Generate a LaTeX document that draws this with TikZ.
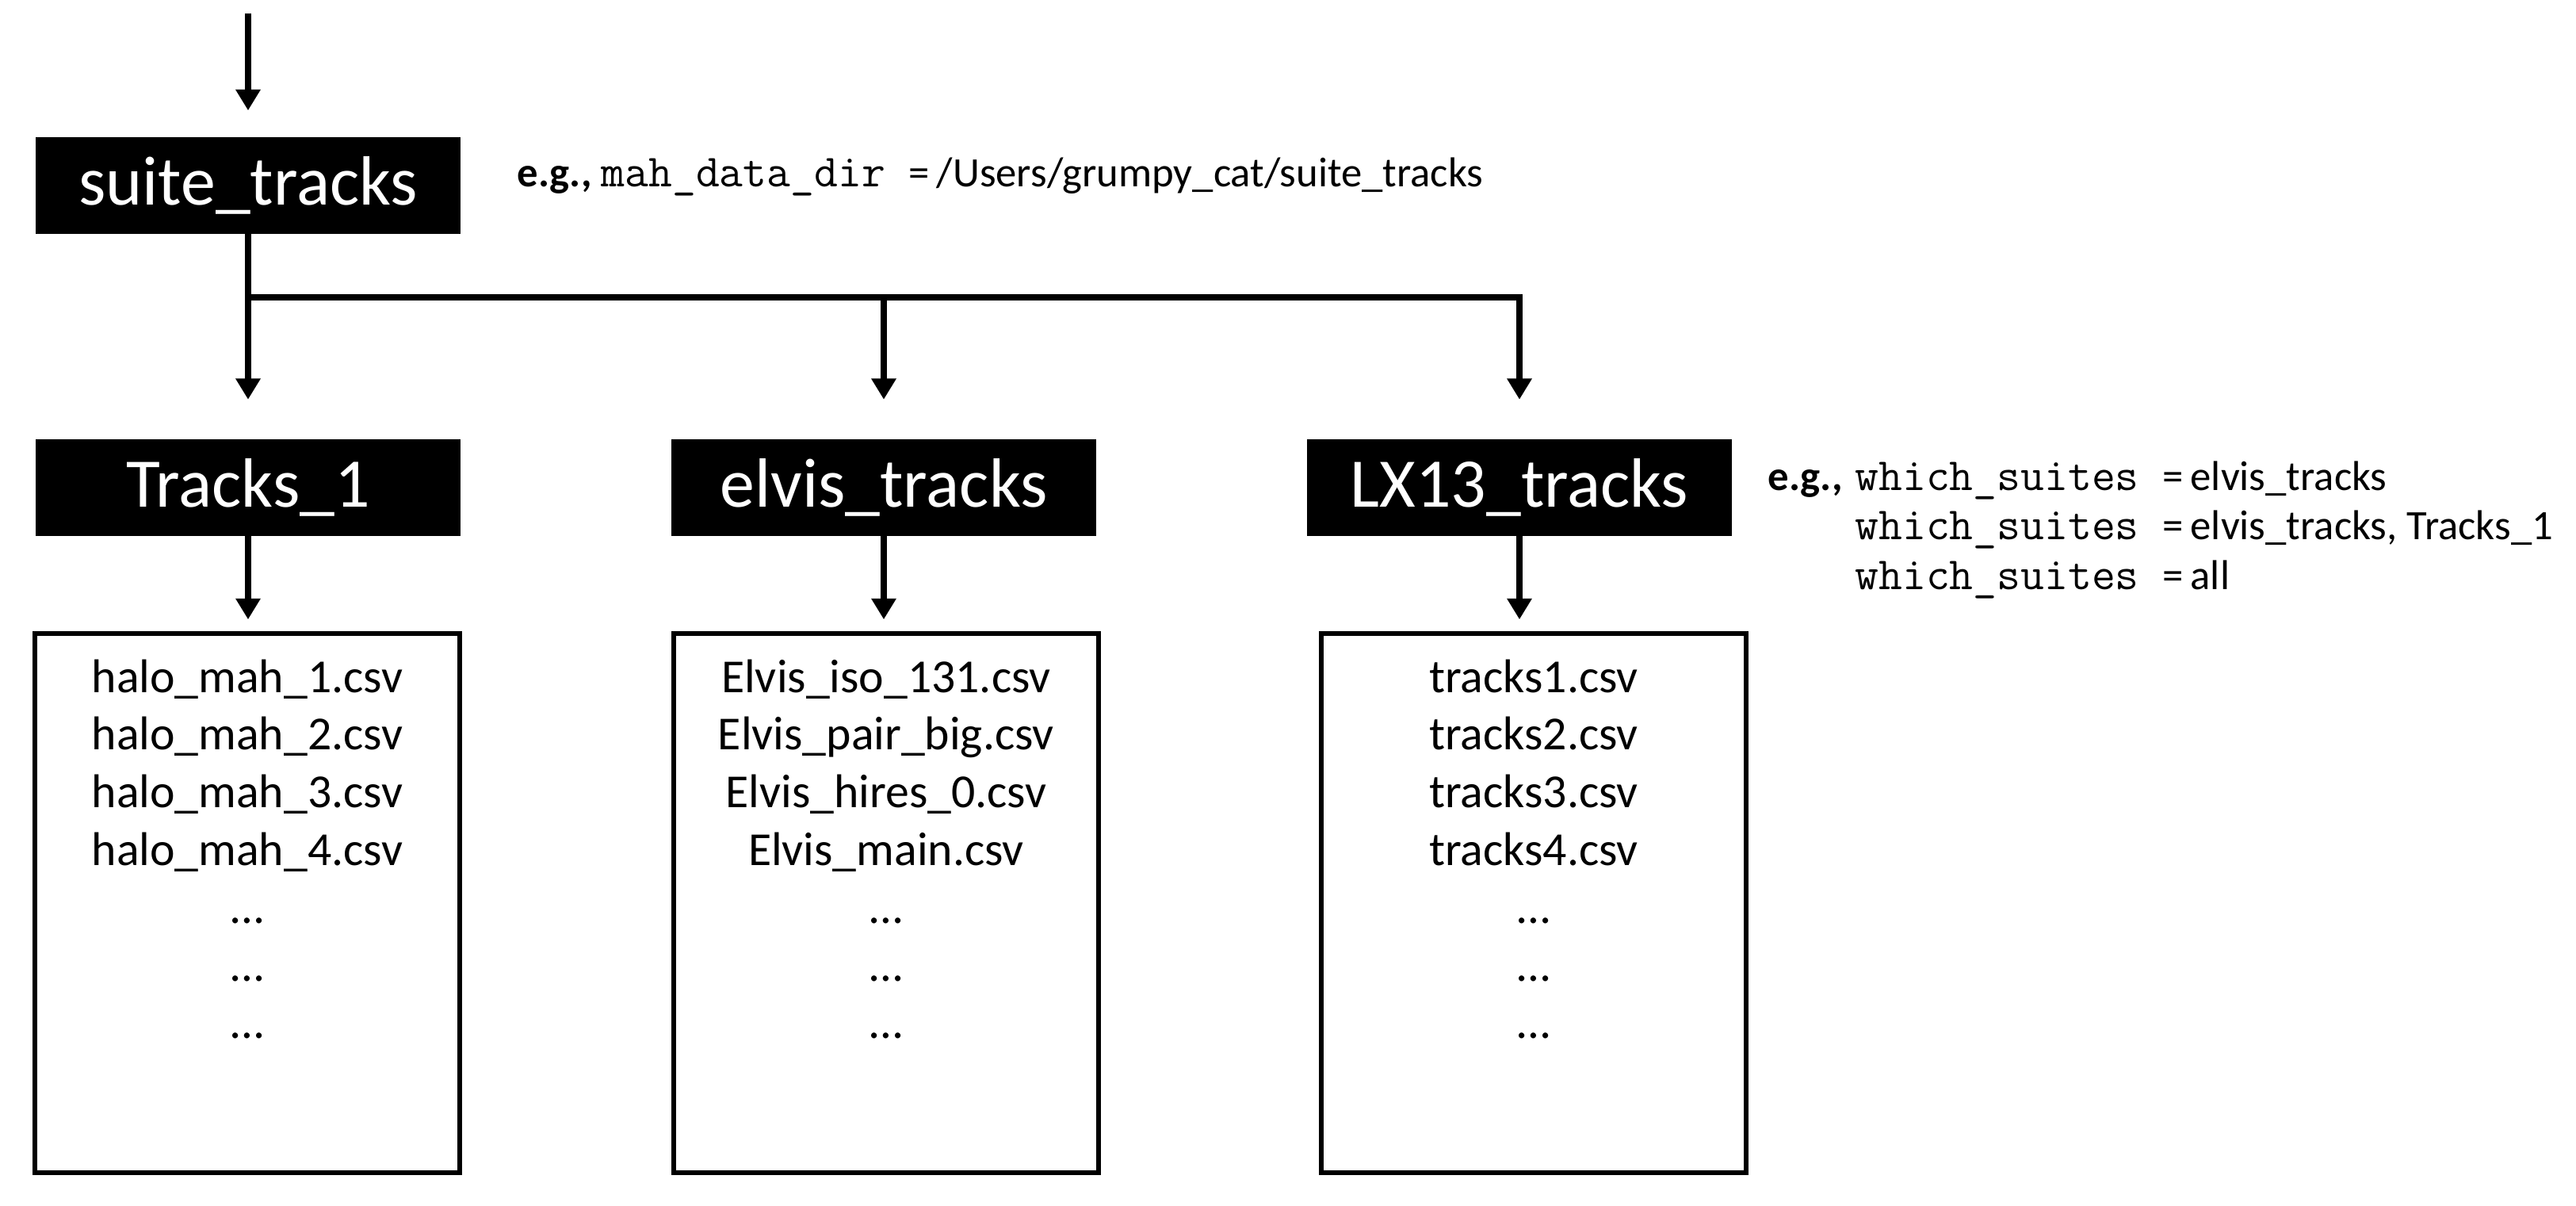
\documentclass[tikz,border=0pt]{standalone}
\usepackage{fontspec}
\setmainfont{Carlito}
\usetikzlibrary{arrows.meta}

\newcommand\varname[1]{{\ttfamily\fontsize{16.5}{17.9}\selectfont #1}}

\tikzset{
  suitebox/.style={fill=black, text=white, minimum width=5.36cm, minimum height=1.22cm, inner sep=0pt, font=\fontsize{25}{30}\selectfont},
  filebox/.style={draw, line width=1.6pt, minimum width=5.36cm, minimum height=6.8cm, inner sep=0pt},
  filename/.style={anchor=base, inner sep=0pt, font=\fontsize{17}{20}\selectfont},
  note/.style={anchor=base west, inner sep=0pt, font=\fontsize{15}{17.9}\selectfont},
  link/.style={line width=2.2pt},
  arr/.style={link, -{Triangle[length=7.5pt, width=8.5pt]}},
}

\begin{document}
\begin{tikzpicture}
    \useasboundingbox (0,0) rectangle (32.5,-15.2);

    % top level
    \coordinate (entry) at (3.13,-0.17);
    \node[suitebox] (suite) at (3.13,-2.34) {suite\_tracks};
    \draw[arr, shorten >=3.3mm] (entry) -- (suite.north);
    \node[note] (datadir) at (6.52,-2.35) {\textbf{e.g.,} \varname{mah\_data\_dir\ }=\,/Users/grumpy\_cat/suite\_tracks};

    % suites
    \node[suitebox] (tr1) at (3.13,-6.145) {Tracks\_1};
    \node[suitebox] (elvis) at (11.15,-6.145) {elvis\_tracks};
    \node[suitebox] (lx13) at (19.17,-6.145) {LX13\_tracks};
    \node[note] (which) at (22.3,-6.18) {\begin{tabular}[t]{@{}l@{\hspace{0.3em}}l@{}}
        \textbf{e.g.,} & \varname{which\_suites\ }=\,elvis\_tracks\\
         & \varname{which\_suites\ }=\,elvis\_tracks, Tracks\_1\\
         & \varname{which\_suites\ }=\,all
      \end{tabular}};

    \coordinate (split) at (3.13,-3.75);
    \draw[link, line cap=rect] (suite.south) |- (lx13.north |- split);
    \foreach \s in {tr1, elvis, lx13}
      \draw[arr, shorten >=4.9mm] (\s.north |- split) -- (\s.north);

    % files
    \node[filebox] (tr1f) at (3.12,-11.39) {};
    \node[filebox] (elvisf) at (11.18,-11.39) {};
    \node[filebox] (lx13f) at (19.35,-11.39) {};
    \foreach \s in {tr1, elvis, lx13}
      \draw[arr, shorten >=1.5mm] (\s.south) -- (\s.south |- \s f.north);

    \foreach \f [count=\i, evaluate=\i as \y using -8.73-0.728*(\i-1)] in
        {halo\_mah\_1.csv, halo\_mah\_2.csv, halo\_mah\_3.csv, halo\_mah\_4.csv, …, …, …}
      \node[filename] (tr1f-\i) at (tr1f.north |- 0,\y) {\f};
    \foreach \f [count=\i, evaluate=\i as \y using -8.73-0.728*(\i-1)] in
        {Elvis\_iso\_131.csv, Elvis\_pair\_big.csv, Elvis\_hires\_0.csv, Elvis\_main.csv, …, …, …}
      \node[filename] (elvisf-\i) at (elvisf.north |- 0,\y) {\f};
    \foreach \f [count=\i, evaluate=\i as \y using -8.73-0.728*(\i-1)] in
        {tracks1.csv, tracks2.csv, tracks3.csv, tracks4.csv, …, …, …}
      \node[filename] (lx13f-\i) at (lx13f.north |- 0,\y) {\f};
\end{tikzpicture}
\end{document}
